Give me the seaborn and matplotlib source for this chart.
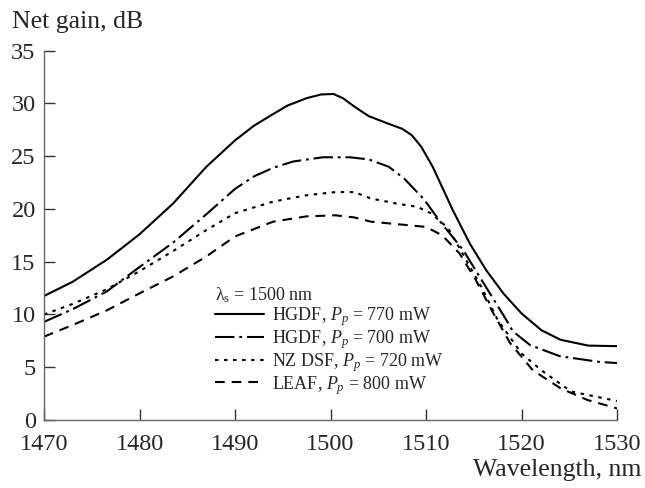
import matplotlib
matplotlib.use("Agg")
import matplotlib.pyplot as plt
import seaborn as sns
import pandas as pd

# ---- data ----
wl_hgdf770 = [1470, 1473, 1476.6, 1480, 1483.5, 1487, 1490, 1492, 1494, 1495.5, 1497.5,
              1499, 1500.3, 1501.3, 1502.5, 1504, 1506, 1507.5, 1508.5, 1509.5, 1510.7,
              1512.8, 1514.6, 1516.3, 1518.1, 1520, 1522.1, 1524.1, 1527, 1530]
g_hgdf770 = [11.75, 13.1, 15.2, 17.6, 20.5, 24.0, 26.5, 27.9, 29.0, 29.8, 30.5,
             30.85, 30.9, 30.5, 29.7, 28.8, 28.1, 27.6, 27.0, 25.9, 24.0,
             19.9, 16.7, 14.2, 12.0, 10.1, 8.5, 7.6, 7.05, 7.0]

wl_hgdf700 = [1470, 1473, 1476.6, 1480, 1483.5, 1487, 1490, 1492, 1494, 1496.1, 1499.2,
              1502, 1504, 1506.1, 1507.7, 1509.8, 1511.4, 1513.9, 1515.8, 1518.2, 1519.1,
              1520.9, 1524.0, 1528.2, 1530]
g_hgdf700 = [9.3, 10.5, 12.2, 14.5, 16.8, 19.5, 21.9, 23.1, 23.9, 24.5, 24.9,
             24.9, 24.7, 24.0, 22.9, 20.9, 18.9, 16.1, 13.3, 9.8, 8.4,
             7.1, 6.05, 5.5, 5.4]

wl_nzdsf = [1470, 1473, 1476.6, 1480, 1483.5, 1487, 1490, 1494, 1497.5, 1500.5, 1502.5,
            1504.2, 1507, 1509.1, 1510.5, 1512.3, 1514, 1515.8, 1517.5, 1520, 1522.1,
            1525.2, 1530]
g_nzdsf = [10.0, 11.0, 12.4, 14.1, 16.0, 18.0, 19.6, 20.7, 21.3, 21.6, 21.6,
           21.0, 20.5, 20.2, 19.6, 18.2, 15.5, 12.6, 9.5, 6.3, 4.7,
           2.7, 1.8]

wl_leaf = [1470, 1473, 1476.6, 1480, 1483.5, 1487, 1490, 1494, 1497.5, 1500.5, 1502.5,
           1504.2, 1507.7, 1510, 1511.7, 1513.5, 1515.2, 1517, 1518.8, 1521.2, 1524.1,
           1526.9, 1530]
g_leaf = [7.9, 9.0, 10.4, 12.0, 13.6, 15.5, 17.4, 18.8, 19.3, 19.4, 19.2,
          18.8, 18.5, 18.3, 17.5, 15.8, 13.3, 10.2, 7.3, 4.7, 3.0,
          1.9, 1.1]

labels = [r"HGDF, $P_p$ = 770 mW",
          r"HGDF, $P_p$ = 700 mW",
          r"NZ DSF, $P_p$ = 720 mW",
          r"LEAF, $P_p$ = 800 mW"]
legend_title = r"$\mathrm{λ}_\mathrm{s}$ = 1500 nm"
x_ticks = [1470, 1480, 1490, 1500, 1510, 1520, 1530]
y_ticks = [0, 5, 10, 15, 20, 25, 30, 35]

# ---- style ----
sns.set_theme(style="ticks")
plt.rcParams["font.family"] = ["Liberation Serif", "DejaVu Serif"]
plt.rcParams["mathtext.fontset"] = "custom"
plt.rcParams["mathtext.rm"] = "Liberation Serif"
plt.rcParams["mathtext.it"] = "Liberation Serif:italic"
plt.rcParams["lines.scale_dashes"] = False

fig = plt.figure(figsize=(6.45, 4.88), dpi=100)
ax = fig.add_axes([44 / 645, 68 / 488, (617 - 44) / 645, (420 - 50.7) / 488])

series = [(wl_hgdf770, g_hgdf770, "-"),
          (wl_hgdf700, g_hgdf700, (0, (14, 3.5, 2, 3.5))),
          (wl_nzdsf, g_nzdsf, (0, (2.5, 4))),
          (wl_leaf, g_leaf, (0, (7, 5)))]

for (xs, ys, ls), lab in zip(series, labels):
    df = pd.DataFrame({"wl": xs, "gain": ys})
    sns.lineplot(data=df, x="wl", y="gain", ax=ax, color="black", lw=1.5,
                 linestyle=ls, label=lab, sort=False)

ax.set_xlim(1470, 1530)
ax.set_ylim(0, 35)
ax.set_xticks(x_ticks)
ax.set_yticks(y_ticks)
ax.set_xlabel("")
ax.set_ylabel("")
for s in ["top", "right"]:
    ax.spines[s].set_visible(False)
for s in ["left", "bottom"]:
    ax.spines[s].set_color("#666666")
    ax.spines[s].set_linewidth(1.0)
ax.tick_params(direction="in", length=8, width=1.0, color="#333333",
               labelsize=17.5)
ax.tick_params(axis="x", pad=10)
ax.tick_params(axis="y", pad=6)

fig.text(12 / 645, 1 - 28 / 488, "Net gain, dB", fontsize=18.5, ha="left",
         va="baseline")
fig.text(641 / 645, 1 - 476 / 488, "Wavelength, nm", fontsize=18.5, ha="right",
         va="baseline")

leg = ax.legend(loc="upper left", bbox_to_anchor=(0.298, 0.365), frameon=False,
                title=legend_title, alignment="left", fontsize=13,
                title_fontsize=13, handlelength=2.75, handletextpad=0.4,
                labelspacing=0.0, borderpad=0, borderaxespad=0)

fig.savefig("out.png", dpi=100)
